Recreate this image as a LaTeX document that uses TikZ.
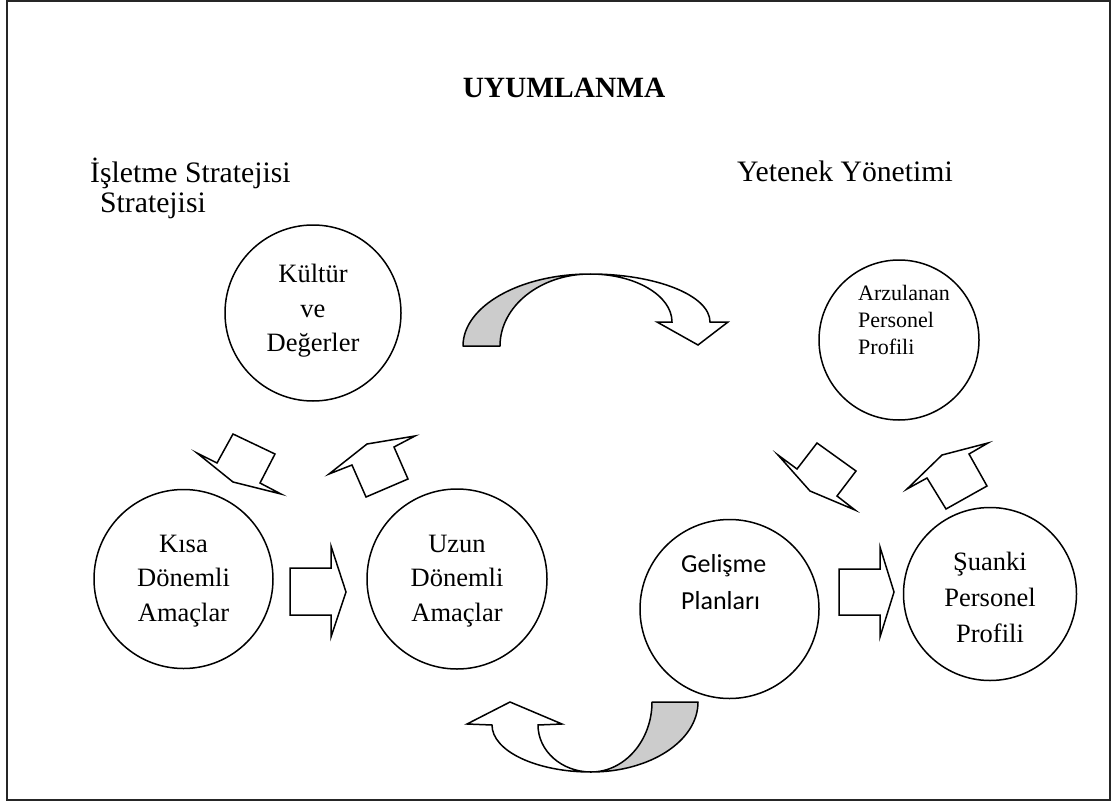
\documentclass[tikz,border=0pt]{standalone}
\usepackage{fontspec}
\setmainfont{Liberation Serif}
\newfontfamily\calibrifont{Carlito}
\definecolor{bandgray}{HTML}{CCCCCC}
\definecolor{framegray}{HTML}{262626}
\begin{document}
\begin{tikzpicture}[x=1pt,y=-1pt,
  circ/.style={draw, line width=1.5pt, circle, inner sep=0pt, minimum size=#1},
  ctext/.style={align=center, font=\fontsize{26.5}{34.5}\selectfont, inner sep=0pt},
  head/.style={font=\fontsize{29.7}{33}\selectfont, inner sep=0pt},
  blockarrow/.style={draw, line width=1.5pt, fill=white, line join=miter},
  bandarrow/.style={draw, line width=1.5pt, fill=bandgray, line join=round},
  shaftarrow/.style={draw, line width=1.5pt, fill=white, line join=miter}
]
\path[use as bounding box] (0,0) rectangle (1115,805);
\draw[line width=2.2pt, framegray] (7,1) rectangle (1110,800);

% title and headings
\node[font=\bfseries\fontsize{29.4}{32}\selectfont, inner sep=0pt] (title) at (564,88) {UYUMLANMA};
\node[head, anchor=west] (isl) at (90,173) {İşletme Stratejisi};
\node[head, anchor=west] (str) at (100,206) {Stratejisi};
\node[head] (yet) at (845,171) {Yetenek Yönetimi};

% circles
\node[circ=176pt] (kul) at (313,313) {};
\node[circ=160pt] (arz) at (899,340) {};
\node[circ=179pt] (kis) at (183.5,579) {};
\node[circ=180pt] (uzu) at (457,579) {};
\node[circ=179pt] (gel) at (729.5,609) {};
\node[circ=173pt] (sua) at (990,594) {};

% circle texts
\node[ctext] (kult) at (313,311) {Kültür\\ve\\Değerler};
\node[ctext, font=\fontsize{22}{27}\selectfont, align=left] (arzt) at (904,320) {Arzulanan\\Personel\\Profili};
\node[ctext] (kist) at (183.5,581) {Kısa\\Dönemli\\Amaçlar};
\node[ctext] (uzut) at (457,581) {Uzun\\Dönemli\\Amaçlar};
\node[ctext, anchor=west, align=left, font=\calibrifont\fontsize{26}{37}\selectfont] (gelt) at (681,582) {Gelişme\\Planları};
\node[ctext, font=\fontsize{26.5}{36}\selectfont] (suat) at (990,597) {Şuanki\\Personel\\Profili};

% straight block arrows
\draw[blockarrow] (290,568) -- (331,568) -- (331,546) -- (346,592) -- (331,637) -- (331,615) -- (290,615) -- cycle;
\draw[blockarrow] (839,569) -- (880,569) -- (880,547) -- (894,592) -- (880,637) -- (880,615) -- (839,615) -- cycle;

% tilted block arrows (left group)
\draw[blockarrow] (197,453) -- (217,463) -- (233,434) -- (275,454) -- (260,483) -- (281,494) -- (233,482) -- cycle;
\draw[blockarrow] (329,474) -- (367,444) -- (415,436) -- (394,447) -- (408,479) -- (366,497) -- (352,465) -- cycle;
% tilted block arrows (right group)
\draw[blockarrow] (778,455) -- (797,469) -- (817,443) -- (856,471) -- (837,496) -- (855,510) -- (810,491) -- cycle;
\draw[blockarrow] (907,489) -- (942,455) -- (988,443) -- (969,454) -- (987,486) -- (946,509) -- (927,478) -- cycle;

% top curved arrow
\draw[bandarrow] (463,346) .. controls (463,306.2) and (519.9,274) .. (590,274)
   .. controls (540.3,274) and (500,306.2) .. (500,346) -- cycle;
\draw[shaftarrow] (590,274) .. controls (656.3,274) and (710,295.5) .. (710,322)
   -- (728,322) -- (698,345) -- (657,322) -- (672,322)
   .. controls (672,295.5) and (635.3,274) .. (590,274) -- cycle;

% bottom curved arrow
\draw[bandarrow] (652,702) -- (698,702) .. controls (698,741) and (650,772) .. (591,772)
   .. controls (625,772) and (652,740) .. (652,702) -- cycle;
\draw[shaftarrow] (591,772) .. controls (536.3,772) and (492,751) .. (492,725)
   -- (467,724) -- (510,702) -- (562,724) -- (538,725)
   .. controls (538,751) and (561.7,772) .. (591,772) -- cycle;
\end{tikzpicture}
\end{document}
